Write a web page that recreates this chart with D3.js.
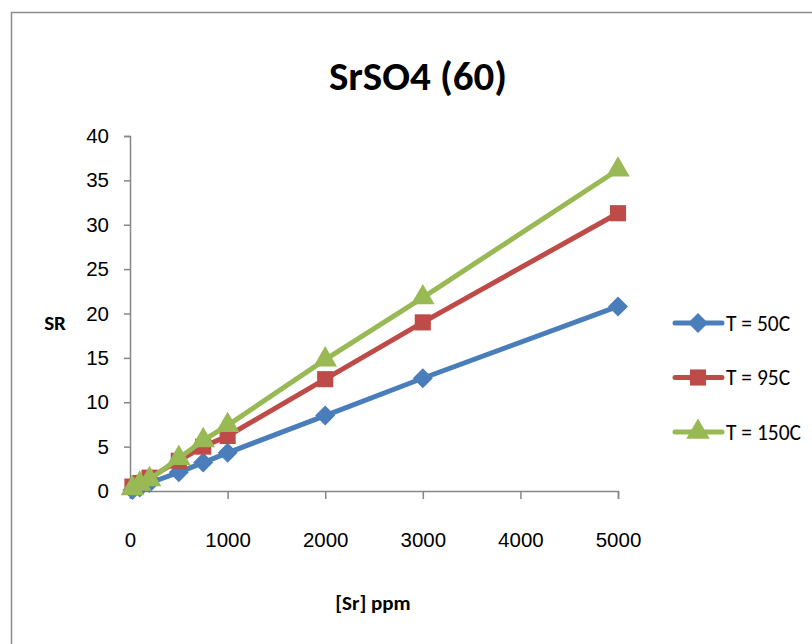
<!DOCTYPE html>
<html>
<head>
<meta charset="utf-8">
<script src="https://cdn.jsdelivr.net/npm/d3@7"></script>
<style>
  body { margin: 0; background: #fff; }
  svg { display: block; font-family: Carlito, Calibri, Lato, "Open Sans", sans-serif; }
</style>
</head>
<body>
<svg id="chart"></svg>
<script>
const concentrations = [25, 100, 200, 500, 750, 1000, 2000, 3000, 5000];
const seriesNames = ['T = 50C', 'T = 95C', 'T = 150C'];
const sr50 = [0.1, 0.4, 0.9, 2.1, 3.2, 4.3, 8.5, 12.7, 20.8];
const sr95 = [0.5, 0.9, 1.5, 3.4, 5.0, 6.2, 12.6, 19.0, 31.3];
const sr150 = [0.3, 0.8, 1.3, 3.7, 5.7, 7.4, 14.8, 21.8, 36.2];
const xTicks = [0, 1000, 2000, 3000, 4000, 5000];
const yTicks = [0, 5, 10, 15, 20, 25, 30, 35, 40];

const width = 812, height = 644;
const margin = { top: 136, right: 194, bottom: 153, left: 130 };

const svg = d3.select('#chart')
  .attr('width', width)
  .attr('height', height);

// outer chart border (cut off at right/bottom like the reference)
svg.append('path')
  .attr('d', `M11.5,${height + 5} V12.5 H${width + 5}`)
  .attr('fill', 'none')
  .attr('stroke', '#8c8c8c')
  .attr('stroke-width', 1.5);

const x = d3.scaleLinear().domain([0, 5000]).range([margin.left, width - margin.right]);
const y = d3.scaleLinear().domain([0, 40]).range([height - margin.bottom, margin.top]);

const axisColor = '#868686';

const xAxis = svg.append('g')
  .attr('transform', `translate(0,${y(0)})`)
  .call(d3.axisBottom(x).tickValues(xTicks).tickSize(8).tickPadding(0).tickFormat(d3.format('d')));
xAxis.select('.domain').attr('stroke', axisColor).attr('stroke-width', 1.5);
xAxis.selectAll('.tick line').attr('stroke', axisColor).attr('stroke-width', 1.5);
xAxis.selectAll('.tick text')
  .attr('y', 41)
  .attr('font-size', 20.5)
  .attr('fill', '#000');

const yAxis = svg.append('g')
  .attr('transform', `translate(${x(0)},0)`)
  .call(d3.axisLeft(y).tickValues(yTicks).tickSize(6).tickPadding(0));
yAxis.select('.domain').attr('stroke', axisColor).attr('stroke-width', 1.5);
yAxis.selectAll('.tick line').attr('stroke', axisColor).attr('stroke-width', 1.5);
yAxis.selectAll('.tick text')
  .attr('x', -21)
  .attr('font-size', 20.5)
  .attr('fill', '#000');

// squares rotated 45 degrees give Excel's wide diamond
const series = [
  { name: seriesNames[0], values: sr50, color: '#4a7ebb', symbol: d3.symbolSquare, size: 200, rotate: 45 },
  { name: seriesNames[1], values: sr95, color: '#be4b48', symbol: d3.symbolSquare, size: 260, rotate: 0 },
  { name: seriesNames[2], values: sr150, color: '#98b954', symbol: d3.symbolTriangle, size: 240, rotate: 0 }
];

const line = d3.line()
  .x((d, i) => x(concentrations[i]))
  .y(d => y(d));

series.forEach(s => {
  const g = svg.append('g');
  g.append('path')
    .datum(s.values)
    .attr('d', line)
    .attr('fill', 'none')
    .attr('stroke', s.color)
    .attr('stroke-width', 5)
    .attr('stroke-linejoin', 'round');
  g.selectAll('path.pt')
    .data(s.values)
    .enter()
    .append('path')
    .attr('class', 'pt')
    .attr('d', d3.symbol().type(s.symbol).size(s.size))
    .attr('transform', (d, i) => `translate(${x(concentrations[i])},${y(d)}) rotate(${s.rotate})`)
    .attr('fill', s.color);
});

// legend
const legend = svg.append('g').attr('transform', 'translate(675,323)');
series.forEach((s, i) => {
  const row = legend.append('g').attr('transform', `translate(0,${i * 54.5})`);
  row.append('line')
    .attr('x1', 0).attr('x2', 47)
    .attr('stroke', s.color)
    .attr('stroke-width', 5)
    .attr('stroke-linecap', 'round');
  row.append('path')
    .attr('d', d3.symbol().type(s.symbol).size(s.size))
    .attr('transform', `translate(23,0) rotate(${s.rotate})`)
    .attr('fill', s.color);
  row.append('text')
    .attr('x', 51)
    .attr('dy', '0.35em')
    .attr('font-size', 21.5)
    .text(s.name);
});

// titles
svg.append('text')
  .attr('x', 418)
  .attr('y', 90)
  .attr('text-anchor', 'middle')
  .attr('font-size', 41)
  .attr('font-weight', 'bold')
  .text('SrSO4 (60)');

svg.append('text')
  .attr('x', 55)
  .attr('y', 330)
  .attr('text-anchor', 'middle')
  .attr('font-size', 21)
  .attr('font-weight', 'bold')
  .text('SR');

svg.append('text')
  .attr('x', 373)
  .attr('y', 610)
  .attr('text-anchor', 'middle')
  .attr('font-size', 21)
  .attr('font-weight', 'bold')
  .text('[Sr] ppm');
</script>
</body>
</html>
